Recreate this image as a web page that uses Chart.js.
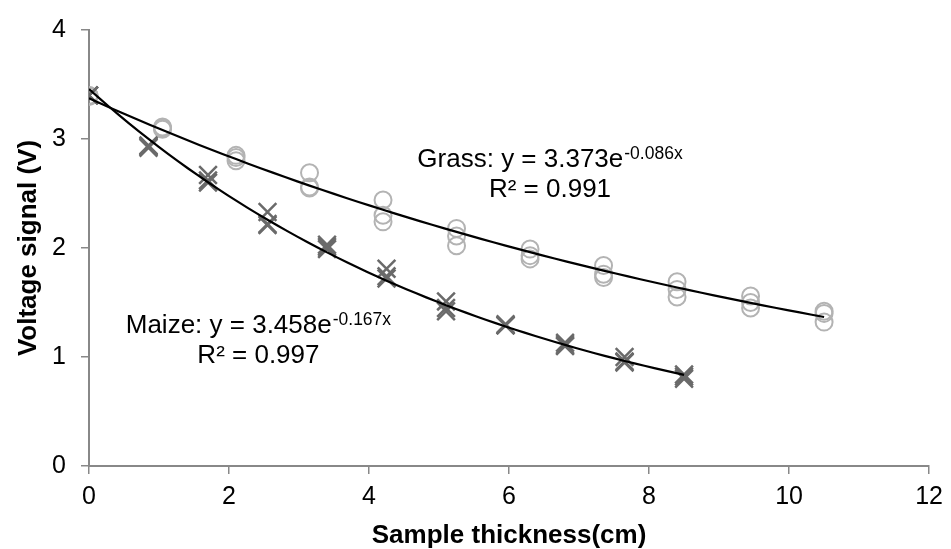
<!DOCTYPE html>
<html>
<head>
<meta charset="utf-8">
<script src="https://cdn.jsdelivr.net/npm/chart.js@4/dist/chart.umd.min.js"></script>
<style>
  html, body { margin: 0; padding: 0; background: #fff; }
  #wrap { width: 951px; height: 549px; position: relative; }
</style>
</head>
<body>
<div id="wrap"><canvas id="c"></canvas></div>
<script>
// ---- data ----
const grassX    = [0, 1.05, 2.10, 3.15, 4.20, 5.25, 6.30, 7.35, 8.40, 9.45, 10.50];
const grassRep1 = [3.40, 3.11, 2.85, 2.69, 2.44, 2.18, 1.99, 1.84, 1.69, 1.56, 1.42];
const grassRep2 = [3.40, 3.09, 2.80, 2.55, 2.30, 2.11, 1.93, 1.76, 1.62, 1.50, 1.40];
const grassRep3 = [3.39, 3.10, 2.83, 2.56, 2.24, 2.02, 1.90, 1.73, 1.55, 1.45, 1.32];

const maizeX    = [0, 0.85, 1.70, 2.55, 3.40, 4.25, 5.10, 5.95, 6.80, 7.65, 8.50];
const maizeRep1 = [3.40, 2.94, 2.67, 2.33, 2.03, 1.81, 1.51, 1.30, 1.13, 1.00, 0.84];
const maizeRep2 = [3.40, 2.92, 2.62, 2.22, 1.99, 1.72, 1.45, 1.29, 1.11, 0.96, 0.82];
const maizeRep3 = [3.40, 2.93, 2.60, 2.21, 2.01, 1.74, 1.42, 1.29, 1.10, 0.95, 0.80];

// trendline equations printed on the chart: y = a * e^(b x)
const grassFit = [3.373, -0.086];
const maizeFit = [3.458, -0.167];
const grassLabel = ['Grass: y = 3.373e', '-0.086x', 'R² = 0.991'];
const maizeLabel = ['Maize: y = 3.458e', '-0.167x', 'R² = 0.997'];

const xTicks = [0, 2, 4, 6, 8, 10, 12];
const yTicks = [0, 1, 2, 3, 4];
const xTitle = 'Sample thickness(cm)';
const yTitle = 'Voltage signal (V)';

// ---- build points ----
function pts(xs, ...reps) {
  const out = [];
  reps.forEach(r => xs.forEach((x, i) => out.push({ x: x, y: r[i] })));
  return out;
}
function fitCurve(fit, xmax) {
  const out = [];
  const n = 60;
  for (let i = 0; i <= n; i++) {
    const x = xmax * i / n;
    out.push({ x: x, y: fit[0] * Math.exp(fit[1] * x) });
  }
  return out;
}

const FONT = "'Liberation Sans', Arial, sans-serif";

const annot = {
  id: 'annot',
  afterDatasetsDraw(chart) {
    const ctx = chart.ctx, xs = chart.scales.x, ys = chart.scales.y;
    function draw(lbl, px, py, py2) {
      const x0 = xs.getPixelForValue(px), y0 = ys.getPixelForValue(py), y1 = ys.getPixelForValue(py2);
      ctx.save();
      ctx.fillStyle = '#000';
      ctx.textBaseline = 'alphabetic';
      ctx.textAlign = 'left';
      ctx.font = '26px ' + FONT;
      const w1 = ctx.measureText(lbl[0]).width;
      ctx.fillText(lbl[0], x0, y0);
      ctx.font = '17.5px ' + FONT;
      const w2 = ctx.measureText(lbl[1]).width;
      ctx.fillText(lbl[1], x0 + w1 + 1, y0 - 8.5);
      ctx.font = '26px ' + FONT;
      ctx.textAlign = 'center';
      ctx.fillText(lbl[2], x0 + (w1 + 1 + w2) / 2, y1);
      ctx.restore();
    }
    draw(grassLabel, 4.69, 2.742, 2.464);
    draw(maizeLabel, 0.525, 1.219, 0.948);
  }
};

new Chart(document.getElementById('c'), {
  type: 'scatter',
  data: {
    datasets: [
      { label: 'Grass fit', type: 'line', data: fitCurve(grassFit, grassX[grassX.length - 1]),
        borderColor: '#000', borderWidth: 2.2, pointRadius: 0, fill: false, tension: 0, order: 0 },
      { label: 'Maize fit', type: 'line', data: fitCurve(maizeFit, maizeX[maizeX.length - 1]),
        borderColor: '#000', borderWidth: 2.2, pointRadius: 0, fill: false, tension: 0, order: 0 },
      { label: 'Grass', data: pts(grassX, grassRep1, grassRep2, grassRep3),
        pointStyle: 'circle', pointRadius: 8.5, borderWidth: 2, borderColor: '#b3b3b3',
        backgroundColor: 'rgba(0,0,0,0)', order: 2 },
      { label: 'Maize', data: pts(maizeX, maizeRep1, maizeRep2, maizeRep3),
        pointStyle: 'crossRot', pointRadius: 12.5, borderWidth: 2.5, borderColor: '#6a6a6a',
        backgroundColor: '#6a6a6a', order: 1 }
    ]
  },
  options: {
    responsive: true,
    maintainAspectRatio: false,
    animation: false,
    events: [],
    layout: { padding: { top: 24, right: 17, left: 0, bottom: 0 } },
    plugins: { legend: { display: false }, tooltip: { enabled: false } },
    scales: {
      x: {
        type: 'linear', min: 0, max: 12,
        afterFit(s) { s.height = 83; },
        afterBuildTicks(s) { s.ticks = xTicks.map(v => ({ value: v })); },
        grid: { drawOnChartArea: false, drawTicks: true, tickLength: 8, color: '#888', lineWidth: 1.5 },
        border: { color: '#888', width: 2 },
        ticks: { color: '#000', font: { family: FONT, size: 25 }, padding: 8, maxRotation: 0 },
        title: { display: true, text: xTitle, color: '#000',
                 font: { family: FONT, size: 26, weight: 'bold', lineHeight: 1 }, padding: { top: 0, bottom: 0 } }
      },
      y: {
        type: 'linear', min: 0, max: 4,
        afterFit(s) { s.width = 89; },
        afterBuildTicks(s) { s.ticks = yTicks.map(v => ({ value: v })); },
        grid: { drawOnChartArea: false, drawTicks: true, tickLength: 8, color: '#888', lineWidth: 1.5 },
        border: { color: '#888', width: 2 },
        ticks: { color: '#000', font: { family: FONT, size: 25 }, padding: 15 },
        title: { display: true, text: yTitle, color: '#000',
                 font: { family: FONT, size: 26, weight: 'bold', lineHeight: 1 }, padding: { top: 16, bottom: 0 } }
      }
    }
  },
  plugins: [annot]
});
</script>
</body>
</html>
